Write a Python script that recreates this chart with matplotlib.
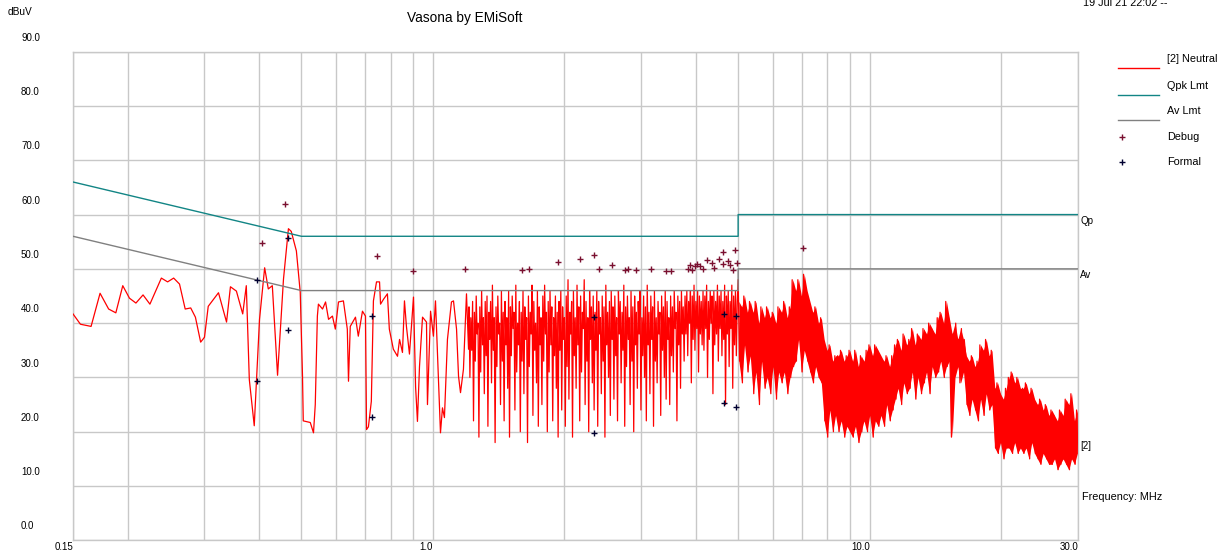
import numpy as np
import matplotlib
matplotlib.use("Agg")
import matplotlib.pyplot as plt
from matplotlib.lines import Line2D

plt.rcParams["font.family"] = ["Liberation Sans", "DejaVu Sans"]

# --- limit lines ---
LIMIT_FREQ = [0.15, 0.5, 5.0, 5.0, 30.0]
QPK_LVL = [66.0, 56.0, 56.0, 60.0, 60.0]
AV_LVL = [56.0, 46.0, 46.0, 50.0, 50.0]

# --- neutral trace, low band (read point by point) ---
LF_FREQ = [0.150, 0.156, 0.165, 0.173, 0.181, 0.188, 0.195, 0.202, 0.209, 0.217,
           0.225, 0.239, 0.247, 0.255, 0.263, 0.271, 0.279, 0.286, 0.294, 0.300,
           0.306, 0.323, 0.337, 0.344, 0.355, 0.367, 0.374, 0.380, 0.390, 0.401,
           0.412, 0.420, 0.429, 0.441, 0.455, 0.467, 0.474, 0.487, 0.497, 0.503,
           0.505, 0.524, 0.533, 0.538, 0.544, 0.547, 0.559, 0.568, 0.577, 0.589,
           0.598, 0.608, 0.624, 0.637, 0.641, 0.647, 0.665, 0.675, 0.690, 0.701,
           0.705, 0.712, 0.723, 0.731, 0.743, 0.755, 0.759, 0.771, 0.787, 0.795,
           0.812, 0.830, 0.839, 0.852, 0.861, 0.870, 0.884, 0.903, 0.913, 0.922,
           0.932, 0.947, 0.967, 0.972, 0.988, 1.003, 1.014, 1.041, 1.052, 1.063,
           1.080, 1.103, 1.115, 1.133, 1.145, 1.157, 1.175, 1.194, 1.207]
LF_LVL = [41.7, 39.8, 39.4, 45.5, 42.6, 41.9, 46.9, 44.6, 43.7, 45.2,
          43.5, 48.3, 47.6, 48.3, 47.2, 42.6, 42.8, 41.1, 36.5, 37.4,
          43.1, 45.6, 40.2, 46.7, 45.9, 41.7, 46.9, 29.6, 21.1, 40.7,
          50.2, 46.3, 46.9, 30.4, 48.1, 57.4, 56.9, 53.3, 45.7, 30.2,
          22.0, 21.7, 19.8, 25.0, 41.3, 43.5, 42.6, 43.9, 40.7, 41.3,
          38.9, 43.9, 44.1, 38.9, 29.3, 39.4, 41.1, 37.6, 42.2, 41.3,
          20.4, 20.9, 25.6, 44.1, 47.6, 47.6, 43.5, 44.4, 45.4, 38.9,
          35.2, 33.9, 37.0, 34.6, 44.1, 39.4, 34.3, 44.8, 28.3, 21.9,
          32.0, 41.1, 40.2, 25.0, 42.2, 37.6, 44.1, 19.8, 24.4, 22.6,
          37.0, 43.9, 44.1, 38.9, 30.2, 27.2, 31.5, 45.4, 35.2]

# --- neutral trace, 1.21-5 MHz sweep (peaks / dips as read) ---
MF_START, MF_STOP = 1.21, 5.0
MF_LVL = [43, 30, 41, 35, 44, 22, 42, 33, 45, 38, 40, 19, 43, 31, 46, 36, 41, 27, 44, 34,
          45, 21, 42, 37, 44, 29, 47, 35, 41, 18, 43, 32, 45, 38, 40, 25, 46, 33, 42, 22,
          44, 36, 41, 28, 46, 19, 43, 34, 45, 39, 42, 24, 47, 31, 40, 36, 44, 20, 42, 33,
          46, 27, 43, 37, 41, 18, 45, 32, 42, 38, 47, 23, 44, 35, 40, 29, 46, 21, 43, 36,
          41, 25, 45, 33, 47, 38, 42, 20, 44, 31, 46, 36, 43, 22, 41, 34, 45, 28, 42, 19,
          44, 35, 46, 24, 43, 37, 41, 21, 45, 32, 48, 26, 42, 38, 44, 19, 46, 34, 41, 28,
          47, 36, 43, 22, 45, 31, 42, 39, 48, 25, 44, 33, 41, 20, 46, 37, 43, 29, 45, 24,
          42, 35, 46, 21, 44, 38, 41, 27, 45, 33, 43, 19, 47, 36, 42, 30, 44, 23, 46, 37,
          43, 26, 45, 34, 41, 22, 46, 38, 44, 29, 42, 35, 47, 21, 43, 32, 45, 37, 41, 25,
          46, 33, 43, 20, 45, 36, 42, 28, 44, 38, 46, 24, 41, 34, 45, 30, 43, 22, 47, 36,
          42, 27, 45, 37, 43, 21, 46, 33, 41, 29, 44, 38, 42, 23, 45, 35, 43, 30, 46, 26,
          44, 37, 41, 25, 45, 34, 43, 31, 46, 39, 42, 22, 45, 36, 44, 28, 46, 38, 43, 33,
          45, 38, 46, 34, 44, 40, 46, 29, 45, 37, 47, 35, 44, 39, 46, 31, 45, 38, 44, 36,
          46, 35, 45, 39, 47, 30, 44, 37, 46, 40, 45, 27, 46, 36, 44, 38, 47, 33, 45, 39,
          46, 34, 44, 37, 47, 25, 45, 38, 46, 32, 44, 39, 47, 28, 45, 36, 46, 34, 44, 48]

# --- neutral trace, 5-30 MHz sweep ---
HF_START, HF_STOP = 5.0, 30.0
HF_LVL = [44, 33, 43, 29, 45, 36, 42, 31, 44, 34,
          42, 27, 44, 31, 40, 25, 43, 33, 41, 28,
          43, 30, 41, 27, 42, 32, 40, 26, 43, 31,
          42, 29, 44, 31, 41, 27, 43, 30, 48, 32,
          46, 33, 48, 37, 45, 31, 49, 35, 46, 33,
          44, 31, 42, 29, 43, 32, 40, 30, 41, 29,
          37, 22, 35, 19, 36, 24, 33, 20, 34, 23,
          34, 20, 35, 22, 33, 19, 34, 21, 35, 20,
          33, 19, 35, 21, 32, 18, 34, 20, 33, 22,
          35, 20, 36, 23, 34, 19, 36, 22, 35, 21,
          34, 23, 33, 21, 34, 25, 32, 22, 34, 24,
          36, 26, 37, 28, 35, 25, 38, 29, 36, 27,
          37, 28, 39, 31, 36, 26, 38, 30, 37, 27,
          39, 29, 38, 31, 40, 27, 39, 32, 38, 30,
          41, 31, 42, 33, 40, 30, 44, 32, 41, 33,
          19, 38, 30, 40, 32, 37, 29, 39, 31, 37,
          34, 25, 33, 23, 34, 26, 32, 24, 33, 22,
          36, 26, 35, 23, 37, 27, 34, 24, 35, 25,
          28, 17, 29, 16, 27, 18, 26, 15, 28, 17,
          30, 17, 31, 16, 29, 18, 30, 16, 28, 17,
          28, 16, 29, 17, 27, 15, 28, 18, 26, 16,
          25, 15, 26, 14, 24, 16, 25, 15, 23, 14,
          24, 14, 23, 15, 22, 13, 24, 14, 23, 15,
          26, 14, 25, 13, 27, 15, 22, 14, 24, 16]

# --- markers ---
DEBUG_FREQ = [0.406, 0.459, 0.745, 0.901, 1.185, 1.600, 1.661, 1.935, 2.173, 2.339,
              2.401, 2.572, 2.754, 2.798, 2.918, 3.159, 3.419, 3.510, 3.838, 3.879,
              3.921, 3.983, 4.025, 4.089, 4.154, 4.243, 4.356, 4.402, 4.520, 4.616,
              4.616, 4.740, 4.790, 4.866, 4.918, 4.970, 7.040]
DEBUG_LVL = [54.8, 62.0, 52.4, 49.6, 50.0, 49.8, 50.0, 51.3, 51.9, 52.6,
             50.0, 50.7, 49.8, 50.0, 49.8, 50.0, 49.6, 49.6, 50.0, 50.7,
             49.8, 50.6, 50.9, 50.6, 50.0, 51.7, 51.1, 50.2, 51.9, 53.1,
             50.9, 51.5, 50.7, 49.8, 53.5, 51.1, 53.9]
FORMAL_FREQ = [0.396, 0.396, 0.466, 0.466, 0.725, 0.725, 2.339, 2.339, 4.640, 4.640, 4.944, 4.944]
FORMAL_LVL = [48.0, 29.4, 55.7, 38.7, 41.3, 22.8, 41.1, 19.8, 41.7, 25.2, 41.3, 24.6]

X_TICKS = [0.15, 1.0, 10.0, 30.0]
X_TICK_LABELS = ["0.15", "1.0", "10.0", "30.0"]
GRID_FREQ = [0.2, 0.3, 0.4, 0.5, 0.6, 0.7, 0.8, 0.9, 1, 2, 3, 4, 5, 6, 7, 8, 9, 10, 20]
Y_TICKS = [0, 10, 20, 30, 40, 50, 60, 70, 80, 90]

RED = "#ff0000"
TEAL = "#128585"
GREY = "#808080"
GRID = "#c8c8c8"
DEBUG_C = "#7a1030"
FORMAL_C = "#000030"

mf_freq = np.geomspace(MF_START, MF_STOP, len(MF_LVL))
hf_freq = np.geomspace(HF_START, HF_STOP, len(HF_LVL))
freq = np.concatenate([LF_FREQ, mf_freq, hf_freq[1:]])
lvl = np.concatenate([LF_LVL, MF_LVL, HF_LVL[1:]])

# above 5 MHz the sweep is so dense it prints as a solid band
hf_pairs = np.array(HF_LVL, dtype=float).reshape(-1, 2)
hf_pair_f = hf_freq.reshape(-1, 2).mean(axis=1)

W, H = 1227, 554
fig = plt.figure(figsize=(W / 100, H / 100), dpi=100)
ax = fig.add_axes([73 / W, 1 - 540.3 / H, (1078 - 73) / W, (540.3 - 51.7) / H])

ax.set_xscale("log")
ax.set_xlim(0.15, 30)
ax.set_ylim(0, 90)
ax.set_xticks(X_TICKS)
ax.set_xticklabels(X_TICK_LABELS)
ax.set_xticks(GRID_FREQ, minor=True)
ax.set_xticklabels([], minor=True)
ax.set_yticks(Y_TICKS)
ax.tick_params(which="both", length=0)
ax.tick_params(axis="x", pad=1.5, labelsize=7)
ax.tick_params(axis="y", labelleft=False)
for lab in ax.get_xticklabels():
    lab.set_ha("right")
ax.grid(True, which="both", color=GRID, lw=1)
ax.set_axisbelow(True)
for sp in ax.spines.values():
    sp.set_color(GRID)
    sp.set_linewidth(1)

# y labels sit above their gridlines, far left
for v in Y_TICKS:
    ax.annotate(f"{v:.1f}", xy=(21, v), xycoords=("figure pixels", "data"),
                xytext=(0, 10), textcoords="offset points", ha="left", va="center",
                fontsize=7, annotation_clip=False)

ax.fill_between(hf_pair_f, hf_pairs.min(axis=1), hf_pairs.max(axis=1),
                color=RED, lw=0, zorder=3)
ax.plot(freq, lvl, color=RED, lw=0.9, zorder=3)
ax.plot(LIMIT_FREQ, QPK_LVL, color=TEAL, lw=1, zorder=4)
ax.plot(LIMIT_FREQ, AV_LVL, color=GREY, lw=1, zorder=4)
ax.plot(DEBUG_FREQ, DEBUG_LVL, ls="none", marker="+", ms=5, mew=1, color=DEBUG_C, zorder=5)
ax.plot(FORMAL_FREQ, FORMAL_LVL, ls="none", marker="+", ms=5, mew=1, color=FORMAL_C, zorder=5)

# end-of-line labels
for txt, v in [("Qp", QPK_LVL[-1]), ("Av", AV_LVL[-1]), ("[2]", 18.5)]:
    ax.annotate(txt, xy=(30, v), xytext=(1.5, -4.5), textcoords="offset points",
                ha="left", va="center", fontsize=7, annotation_clip=False)

fs = 7.8
fig.text(8 / W, 1 - 12 / H, "dBuV", fontsize=7.3, ha="left", va="center")
fig.text(465 / W, 1 - 18 / H, "Vasona by EMiSoft", fontsize=9.8, ha="center", va="center")
fig.text(1083 / W, 1 - 3 / H, "19 Jul 21 22:02 --", fontsize=fs, ha="left", va="center")
fig.text(1082 / W, 1 - 497 / H, "Frequency: MHz", fontsize=fs, ha="left", va="center")

# legend drawn by hand
legend = [("[2] Neutral", RED, None, 59), ("Qpk Lmt", TEAL, None, 86),
          ("Av Lmt", GREY, None, 111), ("Debug", DEBUG_C, "+", 137),
          ("Formal", FORMAL_C, "+", 162)]
for name, c, mk, yy in legend:
    if mk is None:
        ly = 1 - (yy + 9) / H
        fig.add_artist(Line2D([1118 / W, 1159 / W], [ly, ly], color=c, lw=1))
    else:
        fig.add_artist(Line2D([1122 / W], [1 - yy / H], ls="none", marker="+",
                              ms=4, mew=1, color=c))
    fig.text(1167 / W, 1 - yy / H, name, fontsize=fs, ha="left", va="center")

fig.savefig("out.png", dpi=100)
